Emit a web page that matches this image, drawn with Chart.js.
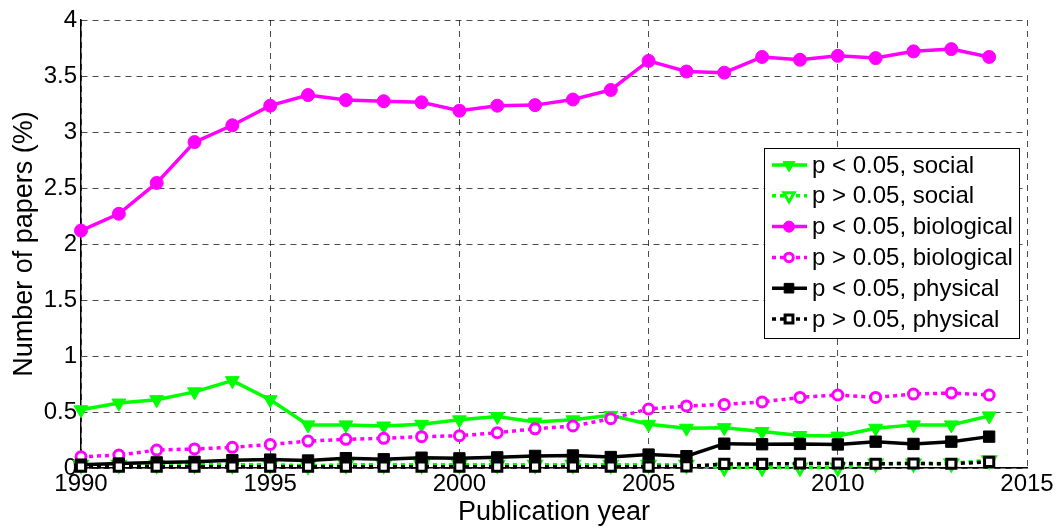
<!DOCTYPE html>
<html>
<head>
<meta charset="utf-8">
<script src="https://cdn.jsdelivr.net/npm/chart.js@4"></script>
<style>
  html, body { margin: 0; padding: 0; background: #fff; }
  #wrap { width: 1057px; height: 529px; position: relative; }
</style>
</head>
<body>
<div id="wrap"><canvas id="c" width="1057" height="529"></canvas></div>
<script>
// ---- data ----
const years = [1990,1991,1992,1993,1994,1995,1996,1997,1998,1999,2000,2001,2002,2003,2004,2005,2006,2007,2008,2009,2010,2011,2012,2013,2014];
const socialSig = [0.52,0.58,0.61,0.68,0.78,0.61,0.385,0.385,0.375,0.39,0.43,0.46,0.41,0.43,0.47,0.39,0.355,0.36,0.325,0.29,0.285,0.355,0.385,0.385,0.465];
const socialNon = [0.03,0.03,0.03,0.03,0.03,0.03,0.02,0.03,0.03,0.03,0.03,0.03,0.03,0.03,0.03,0.03,0.03,0.005,0.005,0.005,0.005,0.04,0.04,0.04,0.07];
const bioSig = [2.12,2.27,2.545,2.91,3.06,3.235,3.33,3.285,3.275,3.265,3.19,3.235,3.24,3.29,3.375,3.635,3.54,3.53,3.67,3.645,3.68,3.66,3.72,3.74,3.67];
const bioNon = [0.10,0.116,0.16,0.17,0.185,0.21,0.24,0.256,0.265,0.28,0.288,0.315,0.35,0.375,0.44,0.527,0.554,0.568,0.59,0.63,0.652,0.63,0.66,0.67,0.652];
const physSig = [0.03,0.04,0.05,0.055,0.07,0.075,0.067,0.088,0.078,0.092,0.086,0.095,0.108,0.112,0.098,0.12,0.106,0.217,0.212,0.215,0.21,0.235,0.215,0.235,0.28];
const physNon = [0.012,0.012,0.012,0.012,0.012,0.012,0.012,0.012,0.012,0.012,0.012,0.012,0.012,0.012,0.012,0.012,0.015,0.036,0.036,0.04,0.04,0.038,0.04,0.038,0.054];
const seriesLabels = ['p < 0.05, social','p > 0.05, social','p < 0.05, biological','p > 0.05, biological','p < 0.05, physical','p > 0.05, physical'];
const xTicks = [1990,1995,2000,2005,2010,2015];
const yTicks = [0,0.5,1,1.5,2,2.5,3,3.5,4];
const xTitle = 'Publication year';
const yTitle = 'Number of papers (%)';

const GREEN = '#00ff00', MAGENTA = '#ff00ff', BLACK = '#000000';
const FONT = "'Liberation Sans', Arial, Helvetica, sans-serif";

function pts(vals) { return years.map((y, i) => ({ x: y, y: vals[i] })); }

function ds(label, vals, color, dotted, style, radius, hollow, rotation) {
  return {
    label: label,
    data: pts(vals),
    borderColor: color,
    backgroundColor: color,
    borderWidth: dotted ? 3.5 : 3.5,
    borderDash: dotted ? [4, 4] : [],
    pointStyle: style,
    pointRadius: radius,
    pointRotation: rotation || 0,
    pointBackgroundColor: hollow ? '#ffffff' : color,
    pointBorderColor: color,
    pointBorderWidth: hollow ? 3 : 1,
    tension: 0,
    clip: false
  };
}

const datasets = [
  ds(seriesLabels[0], socialSig, GREEN, false, 'triangle', 8, false, 180),
  ds(seriesLabels[1], socialNon, GREEN, true, 'triangle', 7, true, 180),
  ds(seriesLabels[2], bioSig, MAGENTA, false, 'circle', 6.5, false),
  ds(seriesLabels[3], bioNon, MAGENTA, true, 'circle', 5, true),
  ds(seriesLabels[4], physSig, BLACK, false, 'rect', 8, false),
  ds(seriesLabels[5], physNon, BLACK, true, 'rect', 6.5, true)
];
// MATLAB draws later series on top
datasets.forEach((d, i) => { d.order = datasets.length - i; });

const legendPlugin = {
  id: 'insideLegend',
  afterDraw(chart) {
    const ctx = chart.ctx;
    const bx = 764, by = 148, bw = 255, bh = 190;
    ctx.save();
    ctx.fillStyle = '#fff';
    ctx.fillRect(bx, by, bw, bh);
    ctx.strokeStyle = '#000';
    ctx.lineWidth = 1;
    ctx.setLineDash([]);
    ctx.strokeRect(bx + 0.5, by + 0.5, bw, bh);
    const dsets = chart.data.datasets;
    dsets.forEach((d, i) => {
      const y = 165 + i * 30.8;
      ctx.save();
      ctx.strokeStyle = d.borderColor;
      ctx.lineWidth = d.borderWidth;
      ctx.setLineDash(d.borderDash);
      ctx.beginPath();
      ctx.moveTo(772, y);
      ctx.lineTo(807, y);
      ctx.stroke();
      ctx.setLineDash([]);
      ctx.fillStyle = d.pointBackgroundColor;
      ctx.strokeStyle = d.pointBorderColor;
      ctx.lineWidth = d.pointBorderWidth;
      Chart.helpers.drawPoint(ctx, {
        pointStyle: d.pointStyle,
        rotation: d.pointRotation,
        radius: d.pointRadius * 0.85,
        borderWidth: d.pointBorderWidth
      }, 789, y);
      ctx.restore();
      ctx.fillStyle = '#000';
      ctx.font = '24px ' + FONT;
      ctx.textBaseline = 'middle';
      ctx.textAlign = 'left';
      ctx.fillText(d.label, 812, y + 1);
    });
    ctx.restore();
  }
};

new Chart(document.getElementById('c'), {
  type: 'line',
  data: { datasets: datasets },
  options: {
    responsive: false,
    animation: false,
    layout: { padding: { top: 20, right: 30, left: 0, bottom: 0 } },
    plugins: { legend: { display: false }, tooltip: { enabled: false } },
    scales: {
      x: {
        type: 'linear',
        min: xTicks[0],
        max: xTicks[xTicks.length - 1],
        afterBuildTicks: s => { s.ticks = xTicks.map(v => ({ value: v })); },
        afterFit: s => { s.height = 61; },
        ticks: {
          callback: v => String(v),
          color: '#000',
          font: { family: FONT, size: 24 },
          padding: 2,
          maxRotation: 0,
          autoSkip: false
        },
        grid: { color: 'rgba(0,0,0,0.7)', lineWidth: 1, drawTicks: false },
        border: { display: true, color: '#000', width: 1.5, dash: [6, 5] },
        title: { display: true, text: xTitle, color: '#000', font: { family: FONT, size: 27 }, padding: { top: 1, bottom: 0 } }
      },
      y: {
        type: 'linear',
        min: yTicks[0],
        max: yTicks[yTicks.length - 1],
        afterBuildTicks: s => { s.ticks = yTicks.map(v => ({ value: v })); },
        afterFit: s => { s.width = 81; },
        ticks: {
          callback: v => String(v),
          color: '#000',
          font: { family: FONT, size: 24 },
          padding: 4,
          autoSkip: false
        },
        grid: { color: 'rgba(0,0,0,0.7)', lineWidth: 1, drawTicks: false },
        border: { display: true, color: '#000', width: 1.5, dash: [6, 5] },
        title: { display: true, text: yTitle, color: '#000', font: { family: FONT, size: 27 }, padding: { top: 8, bottom: 0 } }
      }
    }
  },
  plugins: [legendPlugin]
});
</script>
</body>
</html>
